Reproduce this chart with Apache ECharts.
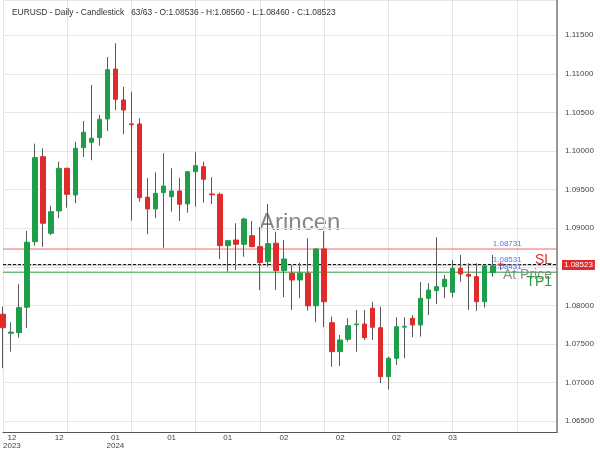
<!DOCTYPE html>
<html>
<head>
<meta charset="utf-8">
<script src="https://cdn.jsdelivr.net/npm/echarts@6/dist/echarts.min.js"></script>
<style>
html,body{margin:0;padding:0;background:#fff;}
#chart{width:600px;height:450px;}
</style>
</head>
<body>
<div id="chart"></div>
<script>
// ---- data ----
const headerText = 'EURUSD - Daily - Candlestick   63/63 - O:1.08536 - H:1.08560 - L:1.08460 - C:1.08523';

const opens = [1.07886,1.07640,1.07648,1.07977,1.08826,1.09927,1.08935,1.09224,1.09777,1.09431,
 1.10044,1.10114,1.10174,1.10416,1.11063,1.10662,1.10352,1.10351,1.09402,1.09250,
 1.09461,1.09409,1.09483,1.09315,1.09733,1.09798,1.09444,1.09440,1.08775,1.08848,
 1.08793,1.08904,1.08762,1.08567,1.08806,1.08451,1.08417,1.08330,1.08417,1.07996,
 1.08732,1.07777,1.07402,1.07562,1.07750,1.07760,1.07964,1.07712,1.07078,1.07316,
 1.07720,1.07834,1.07747,1.08093,1.08192,1.08244,1.08171,1.08482,1.08403,1.08373,
 1.08049,1.08425,1.08536];
const closes = [1.07712,1.07655,1.07972,1.08819,1.09915,1.09065,1.09215,1.09777,1.09440,1.10036,
 1.10244,1.10166,1.10412,1.11054,1.10671,1.10532,1.10342,1.09396,1.09250,1.09453,
 1.09548,1.09483,1.09311,1.09733,1.09811,1.09635,1.09434,1.08775,1.08839,1.08793,
 1.09120,1.08762,1.08557,1.08801,1.08451,1.08602,1.08330,1.08417,1.07996,1.08732,
 1.08049,1.07402,1.07553,1.07738,1.07760,1.07583,1.07718,1.07078,1.07316,1.07725,
 1.07730,1.07747,1.08093,1.08200,1.08244,1.08339,1.08482,1.08408,1.08380,1.08049,
 1.08512,1.08512,1.08523];
const highs = [1.07984,1.07782,1.08275,1.08965,1.10096,1.10036,1.09293,1.09863,1.09785,1.10122,
 1.10390,1.10856,1.10468,1.11219,1.11396,1.10834,1.10769,1.10425,1.09648,1.09725,
 1.09972,1.09777,1.09655,1.09742,1.09984,1.09863,1.09661,1.09461,1.08848,1.09065,
 1.09137,1.09095,1.09017,1.09315,1.08956,1.08848,1.08525,1.08554,1.08870,1.08740,
 1.08965,1.07855,1.07618,1.07834,1.07942,1.07942,1.08049,1.07984,1.07337,1.07847,
 1.07847,1.07877,1.08304,1.08288,1.08883,1.08395,1.08589,1.08654,1.08547,1.08547,
 1.08520,1.08654,1.08560];
const lows = [1.07187,1.07402,1.07583,1.07705,1.08775,1.08758,1.08913,1.09130,1.09267,1.09324,
 1.09923,1.09881,1.10070,1.10260,1.10532,1.10218,1.09098,1.09345,1.08922,1.09130,
 1.08749,1.09215,1.09095,1.09202,1.09280,1.09332,1.09315,1.08602,1.08438,1.08460,
 1.08632,1.08754,1.08200,1.08503,1.08200,1.08106,1.07942,1.08093,1.07933,1.07782,
 1.07718,1.07207,1.07216,1.07531,1.07402,1.07553,1.07553,1.06992,1.06914,1.07229,
 1.07316,1.07588,1.07596,1.07877,1.08019,1.08093,1.08106,1.08308,1.07942,1.07929,
 1.07972,1.08370,1.08460];

// x tick labels (one every 7 sessions, starting at the first candle)
const tickLabels = ['  12\n2023','12','01\n2024','01','01','02','02','02','03'];
const tickEvery = 7;
const gridEvery = 8;
const totalSlots = 70; // 63 sessions + empty space on the right

// trade levels
const slLevel = 1.08731;
const entryLevel = 1.08531;
const tpLevel = 1.08431;
const lastPrice = 1.08523;
const levelLabelIndex = 61;

// y axis range
const yMin = 1.06361;
const yMax = 1.11957;
const yStep = 0.005;

// ---- build ----
const cats = Array.from({length: totalSlots}, (_, i) => String(i));
const wickData = opens.map((o, i) => [o, closes[i], lows[i], highs[i]]);
const bodyData = opens.map((o, i) => [o, closes[i], Math.min(o, closes[i]), Math.max(o, closes[i])]);

const UP = '#1f9e4a';
const DOWN = '#e12b2b';
const FONT = '"Liberation Sans", Arial, sans-serif';

function levelSeries(value, color, type, label) {
  const s = {
    name: 'lvl' + value, type: 'line', data: cats.map(() => value), symbol: 'none', showSymbol: false,
    silent: true, z: 3, lineStyle: {color: color, width: 1, type: type},
    emphasis: {disabled: true}
  };
  if (label) {
    s.markLine = {
      symbol: 'none', silent: true, animation: false, precision: 6,
      lineStyle: {width: 1, color: 'rgba(0,0,0,0)', type: 'solid'},
      label: label,
      data: [{yAxis: value}]
    };
  }
  return s;
}

const chart = echarts.init(document.getElementById('chart'), null, {renderer: 'canvas'});
chart.setOption({
  animation: false,
  backgroundColor: '#ffffff',
  textStyle: {fontFamily: FONT},
  title: {
    text: headerText, left: 7, top: 4,
    textStyle: {fontSize: 8.4, fontWeight: 'normal', color: '#333', fontFamily: FONT}
  },
  grid: {left: 2.7, right: 43, top: 0, bottom: 18},
  xAxis: {
    type: 'category', data: cats, boundaryGap: false,
    axisLine: {show: true, lineStyle: {color: '#555', width: 1}},
    axisTick: {show: false},
    axisLabel: {
      interval: (idx) => idx % tickEvery === 0 && idx / tickEvery < tickLabels.length,
      formatter: (v, idx) => tickLabels[Math.round(idx / tickEvery)] || '',
      fontSize: 8, color: '#444', lineHeight: 8, margin: 2, fontFamily: FONT,
      alignMinLabel: 'left'
    },
    splitLine: {show: true, interval: (idx) => idx % gridEvery === 0, lineStyle: {color: '#e6e6e6', width: 1}}
  },
  yAxis: {
    type: 'value', position: 'right', min: yMin, max: yMax,
    minInterval: yStep, maxInterval: yStep,
    axisLine: {show: true, lineStyle: {color: '#777', width: 1.5}},
    axisTick: {show: false},
    axisLabel: {fontSize: 8, color: '#444', margin: 8, fontFamily: FONT,
      showMinLabel: false, showMaxLabel: false, formatter: (v) => v.toFixed(5)},
    splitLine: {show: true, lineStyle: {color: '#e6e6e6', width: 1}}
  },
  series: [
    levelSeries(lastPrice, '#a0a0a0', 'solid', {show: true, position: 'end', formatter: lastPrice.toFixed(5), color: '#fff',
      backgroundColor: '#e12b2b', padding: [1, 2, 1, 2], fontSize: 8, distance: 5, fontFamily: FONT}),
    levelSeries(slLevel, '#ee6666', 'solid', {show: true, position: 'insideEndBottom', formatter: 'SL', color: '#e12b2b',
      fontSize: 14, distance: [5, 4], fontFamily: FONT}),
    levelSeries(entryLevel, '#111111', [3, 2], {show: true, position: 'insideEndBottom', formatter: 'At Price',
      color: 'rgba(125,125,125,0.85)', fontSize: 14, distance: [5, 4], fontFamily: FONT}),
    levelSeries(tpLevel, '#2a9a3a', 'solid', {show: true, position: 'insideEndBottom', formatter: 'TP1', color: '#2a9a3a',
      fontSize: 14, distance: [5, 3], fontFamily: FONT}),
    {
      name: 'wick', type: 'candlestick', data: wickData, barWidth: 1, clip: false, silent: true, z: 4,
      itemStyle: {color: '#5a5a5a', color0: '#5a5a5a', borderColor: '#5a5a5a', borderColor0: '#5a5a5a', borderWidth: 1}
    },
    {
      name: 'body', type: 'candlestick', data: bodyData, barWidth: 5, clip: false, silent: true, z: 5,
      itemStyle: {color: UP, color0: DOWN, borderColor: UP, borderColor0: DOWN, borderColorDoji: UP, borderWidth: 1}
    },
    {
      name: 'levelValues', type: 'line', data: [], silent: true, showSymbol: false, z: 6,
      markPoint: {
        symbol: 'circle', symbolSize: 1, silent: true, animation: false,
        itemStyle: {color: 'rgba(0,0,0,0)'},
        label: {show: true, position: 'inside', align: 'left', verticalAlign: 'bottom', offset: [0, -1],
          fontSize: 8, color: '#4f7ae6', fontFamily: FONT, formatter: (p) => Number(p.value).toFixed(5)},
        data: [
          {coord: [levelLabelIndex, slLevel], value: slLevel},
          {coord: [levelLabelIndex, entryLevel], value: entryLevel},
          {coord: [levelLabelIndex, tpLevel], value: tpLevel}
        ]
      }
    }
  ],
  graphic: [
    {type: 'text', left: 259, top: 211, silent: true,
     style: {text: 'Arincen', fontSize: 24, fontFamily: FONT, fill: 'rgba(105,105,105,0.8)'}}
  ]
});
</script>
</body>
</html>
